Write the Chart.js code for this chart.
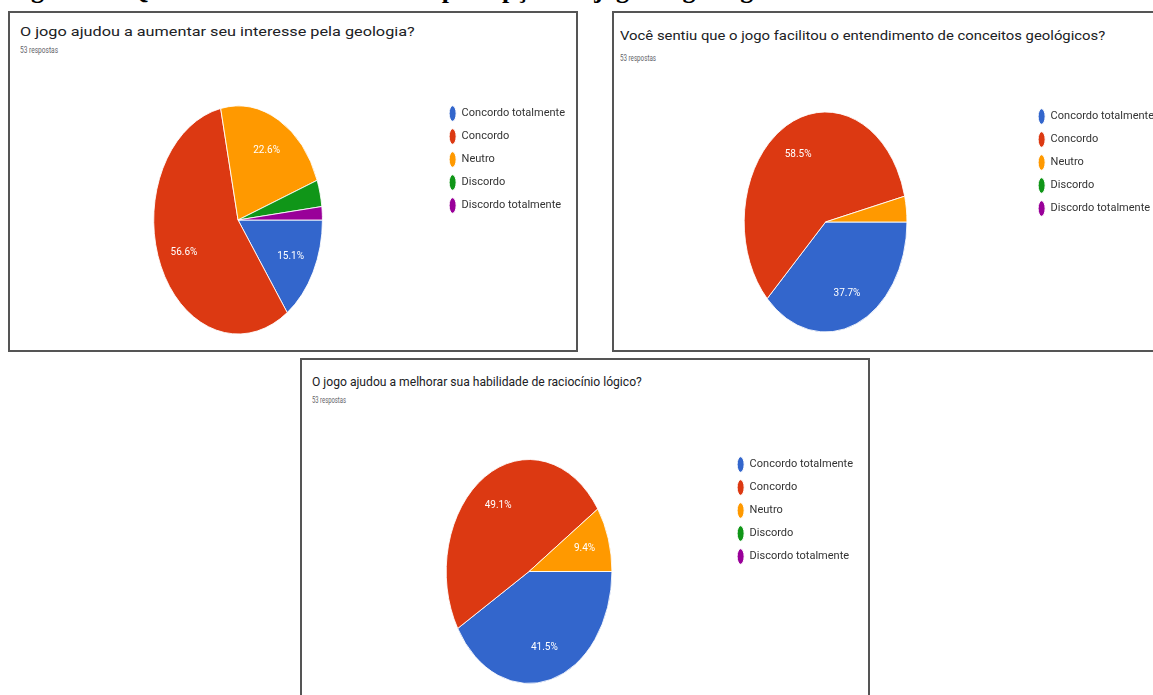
<!DOCTYPE html>
<html>
<head>
<meta charset="utf-8">
<script src="https://cdn.jsdelivr.net/npm/chart.js@4.4.0/dist/chart.umd.min.js"></script>
<style>
  html, body { margin: 0; padding: 0; background: #fff; overflow: hidden; }
  body { width: 1153px; height: 695px; position: relative; font-family: Roboto, Arial, sans-serif; }
  .legenda-fig { position: absolute; left: 8px; top: -25px; line-height: 26px; font: bold 26px "Liberation Serif", "Times New Roman", serif; color: #000; white-space: nowrap; }
  .painel { position: absolute; border: 2px solid #555; box-sizing: border-box; background: #fff; }
  .titulo, .sub { position: absolute; white-space: nowrap; transform-origin: 0 50%; }
  .titulo { font-size: 13px; color: #202124; }
  .sub { font-size: 9px; color: #5f6368; }
  canvas { position: absolute; }
</style>
</head>
<body>
<div class="legenda-fig">Figura 4 – Questões sobre interesse e a percepção do jogo na geologia</div>

<script>
const categorias = ['Concordo totalmente', 'Concordo', 'Neutro', 'Discordo', 'Discordo totalmente'];
const titulos = [
  'O jogo ajudou a aumentar seu interesse pela geologia?',
  'Você sentiu que o jogo facilitou o entendimento de conceitos geológicos?',
  'O jogo ajudou a melhorar sua habilidade de raciocínio lógico?'
];
const subtitulos = ['53 respostas', '53 respostas', '53 respostas'];
const valoresInteresse = [8, 30, 12, 2, 1];
const valoresConceitos = [20, 31, 2, 0, 0];
const valoresRaciocinio = [22, 26, 5, 0, 0];

const cores = ['#3366cc', '#dc3912', '#ff9900', '#109618', '#990099'];

// pizza achatada na horizontal + rotulos de porcentagem
const elipse = {
  id: 'elipse',
  beforeDatasetsDraw(chart, args, opts) {
    const arc = chart.getDatasetMeta(0).data[0];
    const ctx = chart.ctx;
    ctx.save();
    ctx.translate(arc.x, 0);
    ctx.scale(opts.sx, 1);
    ctx.translate(-arc.x, 0);
  },
  afterDatasetsDraw(chart, args, opts) {
    const ctx = chart.ctx;
    ctx.restore();
    const vals = chart.data.datasets[0].data;
    const total = vals.reduce((a, b) => a + b, 0);
    ctx.save();
    ctx.fillStyle = '#fff';
    ctx.font = '10px Roboto, Arial, sans-serif';
    ctx.textAlign = 'center';
    ctx.textBaseline = 'middle';
    chart.getDatasetMeta(0).data.forEach((arc, i) => {
      if (vals[i] / total < 0.05) return;
      const meio = (arc.startAngle + arc.endAngle) / 2;
      const rr = arc.outerRadius * 0.7;
      const x = arc.x + Math.cos(meio) * rr * opts.sx;
      const y = arc.y + Math.sin(meio) * rr;
      ctx.fillText((vals[i] / total * 100).toFixed(1) + '%', x, y);
    });
    ctx.restore();
  }
};

const paineis = [
  { box: [8, 11, 570, 341], tit: [20, 24, 395], sub: [20, 45, 38], cv: [9, 60, 568, 290],
    pad: { left: 30, right: 2, top: 36, bottom: 6 }, raio: 114, dados: valoresInteresse },
  { box: [612, 11, 570, 341], tit: [620, 28, 485], sub: [620, 53, 36], cv: [613, 60, 568, 290],
    pad: { left: 12, right: 17, top: 39, bottom: 5 }, raio: 110, dados: valoresConceitos },
  { box: [300, 358, 570, 360], tit: [312, 374, 330], sub: [312, 395, 34], cv: [301, 407, 568, 295],
    pad: { left: 32, right: 6, top: 40, bottom: 6 }, raio: 112, dados: valoresRaciocinio }
];

paineis.forEach((p, k) => {
  const box = document.createElement('div');
  box.className = 'painel';
  Object.assign(box.style, { left: p.box[0] + 'px', top: p.box[1] + 'px', width: p.box[2] + 'px', height: p.box[3] + 'px' });
  document.body.appendChild(box);

  [['titulo', titulos[k], p.tit], ['sub', subtitulos[k], p.sub]].forEach(([cls, txt, pos]) => {
    const d = document.createElement('div');
    d.className = cls;
    d.textContent = txt;
    d.style.left = pos[0] + 'px';
    d.style.top = pos[1] + 'px';
    document.body.appendChild(d);
    d.style.transform = 'scaleX(' + (pos[2] / d.offsetWidth) + ')';
  });

  const cv = document.createElement('canvas');
  cv.width = p.cv[2];
  cv.height = p.cv[3];
  Object.assign(cv.style, { left: p.cv[0] + 'px', top: p.cv[1] + 'px', width: p.cv[2] + 'px', height: p.cv[3] + 'px' });
  document.body.appendChild(cv);

  new Chart(cv, {
    type: 'pie',
    data: {
      labels: categorias,
      datasets: [{
        data: p.dados,
        backgroundColor: cores,
        borderColor: '#fff',
        borderWidth: 1,
        radius: p.raio
      }]
    },
    options: {
      responsive: false,
      animation: false,
      devicePixelRatio: 1,
      rotation: 90,
      layout: { padding: p.pad },
      plugins: {
        elipse: { sx: 0.74 },
        tooltip: { enabled: false },
        legend: {
          position: 'right',
          align: 'start',
          labels: {
            usePointStyle: true,
            pointStyle: 'circle',
            pointStyleWidth: 7,
            padding: 12,
            color: '#333',
            font: { family: 'Roboto', size: 11 }
          }
        }
      }
    },
    plugins: [elipse]
  });
});
</script>
</body>
</html>
